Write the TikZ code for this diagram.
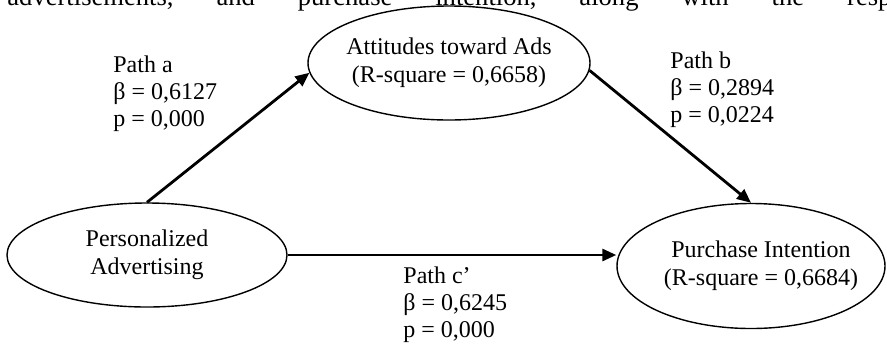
\documentclass[tikz,border=0pt]{standalone}
\usepackage{fontspec}
\setmainfont{Liberation Serif}
\usepackage{xcolor}
\usetikzlibrary{shapes.geometric, arrows.meta, positioning}

\begin{document}
\begin{tikzpicture}[x=0.5pt, y=-0.5pt]
    \tikzstyle{var} = [ellipse, draw, line width=0.7pt, inner xsep=-10pt,
                       inner ysep=0pt, align=center,
                       font=\fontsize{12}{14}\selectfont]
    \tikzstyle{arr} = [-{Triangle[length=7pt, width=6pt]}, line width=1.4pt]
    \tikzstyle{stat} = [anchor=north west, inner sep=0pt, align=left,
                        font=\fontsize{12}{13.5}\selectfont]

    \useasboundingbox (0,0) rectangle (887,349);

    % cut-off line of the running text above the figure
    \node[anchor=base west, inner sep=0pt, font=\fontsize{13.3}{16}\selectfont] (cap) at (7,5)
        {\hbox to 442pt{advertisements,\hfill and\hfill purchase\hfill intention,\hfill along\hfill with\hfill the\hfill resp}};

    \node[var, minimum width=141pt, minimum height=57pt]   (ads)   at (449,63)  {Attitudes toward Ads\\(R-square = 0,6658)};
    \node[var, minimum width=140pt, minimum height=52pt]   (pers)  at (147,255) {Personalized\\Advertising};
    \node[var, minimum width=134pt, minimum height=62.5pt] (purch) at (751,266) {\hspace*{10pt}Purchase Intention\\\hspace*{10pt}(R-square = 0,6684)};

    \draw[arr] (pers.north) -- (ads.184);
    \draw[arr] (ads.-3)     -- (purch.north);
    \draw[arr] (pers.east)  -- (pers.east -| purch.west);

    \node[stat] (pa) at (113,55.5)  {Path a\\β = 0,6127\\p = 0,000};
    \node[stat] (pb) at (670,51.5)  {Path b\\β = 0,2894\\p = 0,0224};
    \node[stat] (pc) at (403,266.5) {Path c'\\β = 0,6245\\p = 0,000};
\end{tikzpicture}
\end{document}
